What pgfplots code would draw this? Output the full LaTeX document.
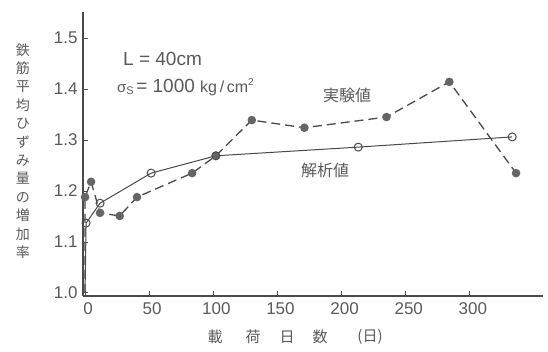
\documentclass[border=0pt]{standalone}
\usepackage{fontspec}
\setmainfont{Liberation Sans}
\newfontfamily\cjk{Noto Sans CJK JP}
\usepackage{pgfplots}
\pgfplotsset{compat=1.18}
\definecolor{txt}{HTML}{5A5A5A}
\definecolor{ln}{HTML}{4A4A4A}
\definecolor{mk}{HTML}{656565}
\begin{document}
\begin{tikzpicture}[x=1pt,y=1pt]
\path[use as bounding box] (-83,-55) rectangle (465,296);
\begin{axis}[
  scale only axis, width=460pt, height=284pt,
  at={(0,0)}, anchor=south west,
  xmin=-1.6, xmax=357, ymin=0.994, ymax=1.551,
  axis x line=bottom, axis y line=left,
  axis line style={-, color=ln, line width=1.1pt},
  tick align=inside, major tick length=5pt,
  tick style={color=ln, line width=0.9pt},
  xtick={0,50,100,150,200,250,300},
  ytick={1.0,1.1,1.2,1.3,1.4,1.5},
  yticklabel style={/pgf/number format/fixed, /pgf/number format/precision=1, /pgf/number format/fixed zerofill, xshift=-2pt},
  /pgf/number format/assume math mode=true,
  ticklabel style={font=\fontsize{17}{17}\selectfont, color=txt},
  xticklabel style={yshift=-3pt, xshift=3pt},
  clip=false,
]
% experimental
\addplot[color=ln, line width=1.3pt, dash pattern=on 9pt off 5pt,
  mark=*, mark size=3.6pt, mark options={solid, fill=mk, draw=mk},
  mark indices={2,3,4,5,6,7,8,9,10,11,12,13}]
  coordinates {(0,1.0)(0,1.188)(4.7,1.218)(11.7,1.157)(27,1.151)(40.5,1.188)(83.5,1.235)(102,1.269)(130,1.339)(171,1.324)(235,1.345)(284,1.414)(336,1.235)};
% analysis
\addplot[color=ln, line width=1.0pt,
  mark=o, mark size=4pt, mark options={solid, fill=white, draw=ln, line width=1pt},
  mark indices={2,3,4,5,6,7}]
  coordinates {(0,1.0)(0.8,1.137)(11.7,1.176)(51.5,1.235)(102,1.269)(213,1.286)(333,1.306)};
\end{axis}
% y label
\node[color=txt, align=center, font=\cjk\fontsize{14}{18.4}\selectfont] at (-60,145)
  {鉄\\筋\\平\\均\\ひ\\ず\\み\\量\\の\\増\\加\\率};
% x label
\begin{scope}[every node/.style={color=txt, font=\cjk\fontsize{15}{15}\selectfont}]
\node at (132,-41) {載};
\node at (170,-41) {荷};
\node at (204,-41) {日};
\node at (237,-41) {数};
\node at (287,-41) {(日)};
\end{scope}
% annotations
\node[color=txt, anchor=base west, inner sep=0pt, font=\fontsize{19}{19}\selectfont] at (40,230) {L = 40cm};
\node[color=txt, anchor=base west, inner sep=0pt] at (34,203)
  {\fontsize{15}{15}\selectfont σ\raisebox{-2pt}{\fontsize{11}{11}\selectfont S}\,\fontsize{19}{19}\selectfont = 1000 \fontsize{16}{16}\selectfont kg\,/\,cm\raisebox{7pt}{\fontsize{10}{10}\selectfont 2}};
\node[color=txt, font=\cjk\fontsize{16}{16}\selectfont] at (264,201) {実験値};
\node[color=txt, font=\cjk\fontsize{16}{16}\selectfont] at (242,126) {解析値};
\end{tikzpicture}
\end{document}
